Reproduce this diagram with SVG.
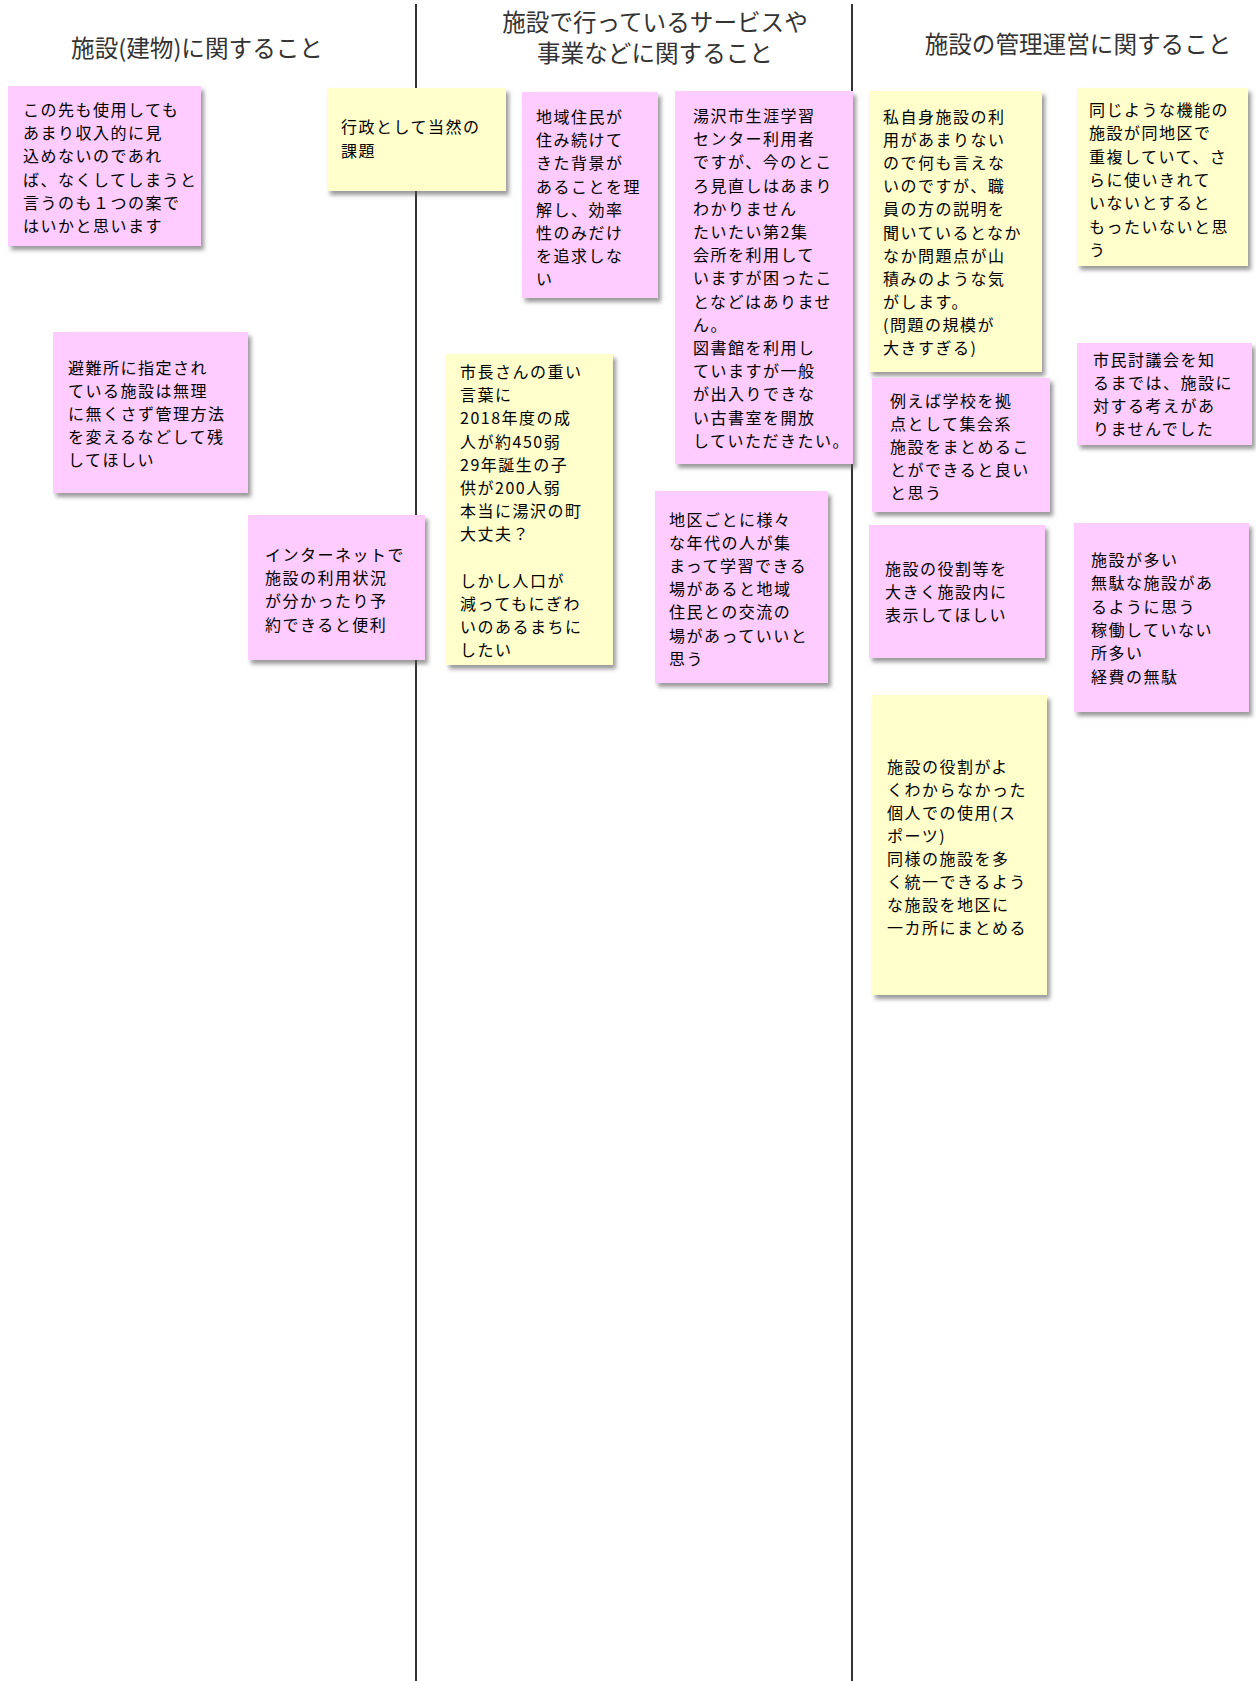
<svg xmlns="http://www.w3.org/2000/svg" width="1256" height="1681" viewBox="0 0 1256 1681">
<defs>
<filter id="sh" x="-10%" y="-10%" width="130%" height="130%">
<feDropShadow dx="3" dy="4" stdDeviation="2" flood-color="#555" flood-opacity="0.6"/>
</filter>
<style>
.pink{fill:#FFCCFF;filter:url(#sh)}
.yellow{fill:#FFFFCC;filter:url(#sh)}
.t{font-family:"Noto Sans CJK JP","Noto Sans CJK SC",sans-serif;font-size:16px;letter-spacing:1.5px;fill:#000}
.h{font-family:"Noto Sans CJK JP","Noto Sans CJK SC",sans-serif;font-size:23.6px;fill:#333;text-anchor:middle}
.div{stroke:#333;stroke-width:2;fill:none}
</style>
</defs>
<rect width="1256" height="1681" fill="#ffffff"/>
<g id="dividers">
<line class="div" x1="416" y1="4" x2="416" y2="1681"/>
<line class="div" x1="852" y1="4" x2="852" y2="1681"/>
</g>
<g id="headers">
<text class="h" x="197" y="57">施設(建物)に関すること</text>
<text class="h" x="655" y="31">施設で行っているサービスや</text>
<text class="h" x="655" y="62">事業などに関すること</text>
<text class="h" x="1078" y="53">施設の管理運営に関すること</text>
</g>
<g id="connectors"></g>
<g id="noteA">
<rect class="pink" x="8" y="86" width="193" height="160"/>
<text class="t" y="116"><tspan x="23">この先も使用しても</tspan><tspan x="23" dy="23.2">あまり収入的に見</tspan><tspan x="23" dy="23.2">込めないのであれ</tspan><tspan x="23" dy="23.2">ば、なくしてしまうと</tspan><tspan x="23" dy="23.2">言うのも１つの案で</tspan><tspan x="23" dy="23.2">はいかと思います</tspan></text>
</g>
<g id="noteB">
<rect class="yellow" x="327" y="88" width="179" height="103"/>
<text class="t" y="133"><tspan x="341">行政として当然の</tspan><tspan x="341" dy="24">課題</tspan></text>
</g>
<g id="noteC">
<rect class="pink" x="522" y="92" width="136" height="206"/>
<text class="t" y="123"><tspan x="536">地域住民が</tspan><tspan x="536" dy="23.2">住み続けて</tspan><tspan x="536" dy="23.2">きた背景が</tspan><tspan x="536" dy="23.2">あることを理</tspan><tspan x="536" dy="23.2">解し、効率</tspan><tspan x="536" dy="23.2">性のみだけ</tspan><tspan x="536" dy="23.2">を追求しな</tspan><tspan x="536" dy="23.2">い</tspan></text>
</g>
<g id="noteD">
<rect class="pink" x="675" y="91" width="178" height="373"/>
<text class="t" y="122"><tspan x="693">湯沢市生涯学習</tspan><tspan x="693" dy="23.2">センター利用者</tspan><tspan x="693" dy="23.2">ですが、今のとこ</tspan><tspan x="693" dy="23.2">ろ見直しはあまり</tspan><tspan x="693" dy="23.2">わかりません</tspan><tspan x="693" dy="23.2">たいたい第2集</tspan><tspan x="693" dy="23.2">会所を利用して</tspan><tspan x="693" dy="23.2">いますが困ったこ</tspan><tspan x="693" dy="23.2">となどはありませ</tspan><tspan x="693" dy="23.2">ん。</tspan><tspan x="693" dy="23.2">図書館を利用し</tspan><tspan x="693" dy="23.2">ていますが一般</tspan><tspan x="693" dy="23.2">が出入りできな</tspan><tspan x="693" dy="23.2">い古書室を開放</tspan><tspan x="693" dy="23.2">していただきたい。</tspan></text>
</g>
<g id="noteE">
<rect class="yellow" x="446" y="354" width="167" height="311"/>
<text class="t" y="378"><tspan x="460">市長さんの重い</tspan><tspan x="460" dy="23.2">言葉に</tspan><tspan x="460" dy="23.2">2018年度の成</tspan><tspan x="460" dy="23.2">人が約450弱</tspan><tspan x="460" dy="23.2">29年誕生の子</tspan><tspan x="460" dy="23.2">供が200人弱</tspan><tspan x="460" dy="23.2">本当に湯沢の町</tspan><tspan x="460" dy="23.2">大丈夫？</tspan><tspan x="460" dy="46.4">しかし人口が</tspan><tspan x="460" dy="23.2">減ってもにぎわ</tspan><tspan x="460" dy="23.2">いのあるまちに</tspan><tspan x="460" dy="23.2">したい</tspan></text>
</g>
<g id="noteF">
<rect class="pink" x="655" y="491" width="173" height="192"/>
<text class="t" y="526"><tspan x="669">地区ごとに様々</tspan><tspan x="669" dy="23.1">な年代の人が集</tspan><tspan x="669" dy="23.1">まって学習できる</tspan><tspan x="669" dy="23.1">場があると地域</tspan><tspan x="669" dy="23.1">住民との交流の</tspan><tspan x="669" dy="23.1">場があっていいと</tspan><tspan x="669" dy="23.1">思う</tspan></text>
</g>
<g id="noteG">
<rect class="pink" x="53" y="332" width="195" height="161"/>
<text class="t" y="374"><tspan x="68">避難所に指定され</tspan><tspan x="68" dy="23">ている施設は無理</tspan><tspan x="68" dy="23">に無くさず管理方法</tspan><tspan x="68" dy="23">を変えるなどして残</tspan><tspan x="68" dy="23">してほしい</tspan></text>
</g>
<g id="noteH">
<rect class="pink" x="248" y="515" width="177" height="145"/>
<text class="t" y="561"><tspan x="265">インターネットで</tspan><tspan x="265" dy="23.2">施設の利用状況</tspan><tspan x="265" dy="23.2">が分かったり予</tspan><tspan x="265" dy="23.2">約できると便利</tspan></text>
</g>
<g id="noteI">
<rect class="yellow" x="869" y="91" width="173" height="281"/>
<text class="t" y="123"><tspan x="883">私自身施設の利</tspan><tspan x="883" dy="23.1">用があまりない</tspan><tspan x="883" dy="23.1">ので何も言えな</tspan><tspan x="883" dy="23.1">いのですが、職</tspan><tspan x="883" dy="23.1">員の方の説明を</tspan><tspan x="883" dy="23.1">聞いているとなか</tspan><tspan x="883" dy="23.1">なか問題点が山</tspan><tspan x="883" dy="23.1">積みのような気</tspan><tspan x="883" dy="23.1">がします。</tspan><tspan x="883" dy="23.1">(問題の規模が</tspan><tspan x="883" dy="23.1">大きすぎる)</tspan></text>
</g>
<g id="noteJ">
<rect class="yellow" x="1077" y="88" width="171" height="178"/>
<text class="t" y="116"><tspan x="1089">同じような機能の</tspan><tspan x="1089" dy="23.3">施設が同地区で</tspan><tspan x="1089" dy="23.3">重複していて、さ</tspan><tspan x="1089" dy="23.3">らに使いきれて</tspan><tspan x="1089" dy="23.3">いないとすると</tspan><tspan x="1089" dy="23.3">もったいないと思</tspan><tspan x="1089" dy="23.3">う</tspan></text>
</g>
<g id="noteK">
<rect class="pink" x="1077" y="343" width="175" height="102"/>
<text class="t" y="366"><tspan x="1093">市民討議会を知</tspan><tspan x="1093" dy="23">るまでは、施設に</tspan><tspan x="1093" dy="23">対する考えがあ</tspan><tspan x="1093" dy="23">りませんでした</tspan></text>
</g>
<g id="noteL">
<rect class="pink" x="872" y="378" width="178" height="134"/>
<text class="t" y="407"><tspan x="890">例えば学校を拠</tspan><tspan x="890" dy="23">点として集会系</tspan><tspan x="890" dy="23">施設をまとめるこ</tspan><tspan x="890" dy="23">とができると良い</tspan><tspan x="890" dy="23">と思う</tspan></text>
</g>
<g id="noteM">
<rect class="pink" x="869" y="525" width="176" height="133"/>
<text class="t" y="575"><tspan x="885">施設の役割等を</tspan><tspan x="885" dy="23.2">大きく施設内に</tspan><tspan x="885" dy="23.2">表示してほしい</tspan></text>
</g>
<g id="noteN">
<rect class="pink" x="1074" y="523" width="175" height="189"/>
<text class="t" y="566"><tspan x="1091">施設が多い</tspan><tspan x="1091" dy="23.3">無駄な施設があ</tspan><tspan x="1091" dy="23.3">るように思う</tspan><tspan x="1091" dy="23.3">稼働していない</tspan><tspan x="1091" dy="23.3">所多い</tspan><tspan x="1091" dy="23.3">経費の無駄</tspan></text>
</g>
<g id="noteO">
<rect class="yellow" x="872" y="695" width="175" height="300"/>
<text class="t" y="773"><tspan x="887">施設の役割がよ</tspan><tspan x="887" dy="23">くわからなかった</tspan><tspan x="887" dy="23">個人での使用(ス</tspan><tspan x="887" dy="23">ポーツ)</tspan><tspan x="887" dy="23">同様の施設を多</tspan><tspan x="887" dy="23">く統一できるよう</tspan><tspan x="887" dy="23">な施設を地区に</tspan><tspan x="887" dy="23">一カ所にまとめる</tspan></text>
</g>
</svg>
